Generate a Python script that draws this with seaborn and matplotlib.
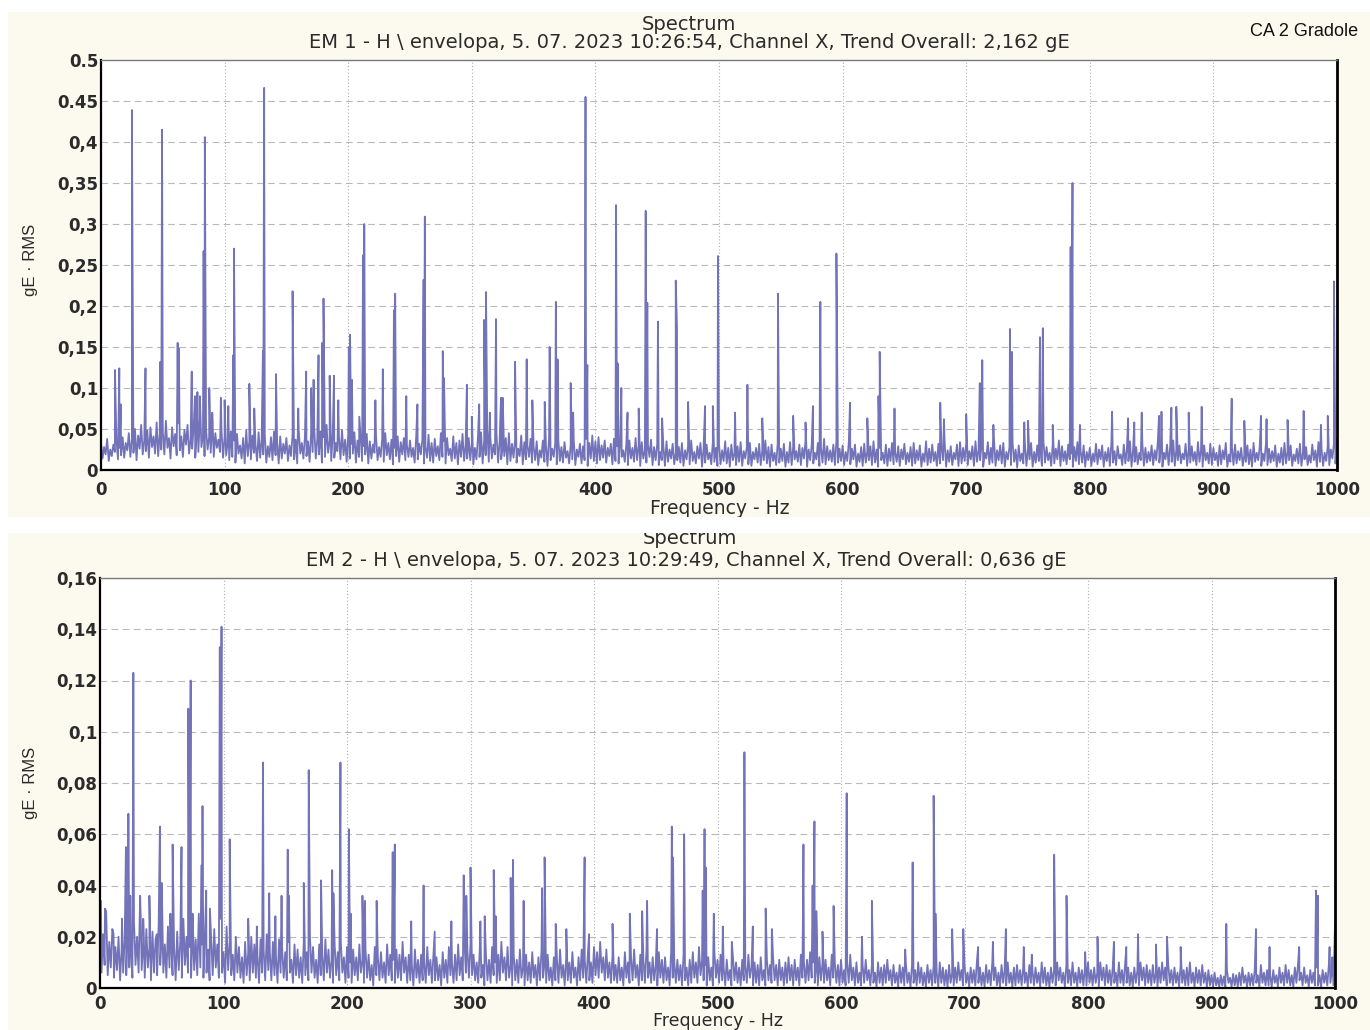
import numpy as np
import pandas as pd
import matplotlib
matplotlib.use("Agg")
import matplotlib.pyplot as plt
from matplotlib.patches import Rectangle
import seaborn as sns

# ---------------- data ----------------
FREQ_STEP = 2.5       # Hz spacing of the noise-floor samples
FREQ_OFFSET_LO = 1.25  # the "low" samples sit between the "high" samples

# top spectrum noise floor, upper samples (gE, thousandths) at 0, 2.5, ... 1000 Hz
noise1_hi_milli = [
    34, 28, 38, 25, 31, 36, 27, 40, 33, 45, 38, 50, 42, 55, 36, 48, 52, 41, 58, 44,
    47, 60, 39, 52, 44, 57, 41, 49, 55, 38, 53, 46, 62, 43, 50, 40, 56, 45, 37, 48,
    41, 33, 47, 36, 44, 30, 39, 49, 35, 42, 31, 46, 38, 43, 29, 40, 47, 34, 41, 32,
    39, 30, 44, 37, 48, 33, 41, 35, 45, 52, 38, 47, 40, 55, 36, 44, 33, 42, 49, 37,
    43, 32, 46, 36, 40, 29, 44, 35, 31, 42, 28, 38, 45, 33, 37, 27, 41, 34, 39, 30,
    36, 27, 40, 32, 37, 28, 43, 33, 38, 29, 45, 35, 39, 26, 41, 33, 36, 44, 30, 39,
    33, 27, 41, 46, 36, 50, 40, 31, 44, 35, 28, 39, 45, 32, 37, 26, 42, 34, 30, 38,
    29, 35, 24, 36, 30, 39, 26, 33, 37, 28, 34, 23, 31, 36, 25, 32, 29, 38, 33, 42,
    35, 40, 30, 36, 27, 32, 38, 29, 34, 24, 31, 36, 27, 39, 30, 34, 23, 31, 37, 28,
    31, 22, 29, 35, 25, 32, 21, 28, 33, 24, 30, 36, 22, 29, 33, 26, 31, 21, 34, 27,
    32, 24, 35, 27, 31, 20, 29, 34, 23, 28, 33, 22, 27, 32, 24, 36, 28, 31, 21, 33,
    26, 32, 22, 34, 28, 23, 31, 27, 36, 25, 30, 21, 33, 27, 38, 29, 24, 31, 35, 26,
    30, 22, 33, 26, 31, 20, 28, 32, 23, 29, 35, 25, 27, 21, 31, 26, 33, 22, 29, 25,
    32, 21, 28, 33, 24, 30, 20, 35, 26, 31, 22, 32, 27, 36, 24, 29, 21, 31, 34, 27,
    33, 23, 29, 35, 25, 31, 21, 34, 27, 37, 24, 30, 33, 22, 28, 34, 25, 30, 20, 32,
    26, 33, 22, 30, 25, 35, 28, 21, 32, 26, 36, 29, 23, 31, 20, 28, 34, 24, 30, 22,
    27, 20, 32, 25, 30, 22, 27, 34, 23, 29, 19, 31, 26, 35, 24, 28, 21, 33, 27, 22,
    30, 24, 34, 26, 21, 31, 28, 36, 25, 30, 20, 32, 26, 29, 22, 34, 25, 30, 21, 32,
    27, 21, 30, 24, 33, 19, 28, 31, 23, 27, 18, 30, 25, 33, 21, 29, 20, 32, 26, 23,
    30, 20, 27, 33, 23, 30, 19, 26, 32, 22, 28, 18, 31, 24, 34, 26, 21, 29, 25, 32,
    38,
]
# top spectrum noise floor, lower samples at 1.25, 3.75, ... 998.75 Hz
noise1_lo_milli = [
    14, 19, 11, 17, 22, 13, 18, 15, 24, 16, 21, 12, 26, 19, 23, 15, 28, 20, 17, 25,
    19, 27, 14, 29, 18, 24, 16, 31, 20, 26, 15, 22, 28, 17, 25, 21, 16, 27, 22, 15,
    18, 12, 16, 9, 20, 14, 8, 17, 13, 21, 11, 15, 19, 9, 16, 12, 18, 8, 14, 20,
    11, 17, 13, 8, 20, 14, 17, 10, 22, 14, 19, 9, 16, 21, 11, 15, 23, 13, 18, 10,
    14, 20, 9, 16, 11, 19, 8, 14, 21, 12, 16, 10, 18, 13, 7, 17, 10, 19, 12, 16,
    16, 9, 13, 19, 8, 15, 11, 9, 17, 12, 16, 8, 18, 11, 14, 7, 16, 11, 14, 12,
    7, 13, 16, 8, 18, 10, 14, 19, 9, 13, 17, 7, 11, 15, 9, 17, 7, 13, 16, 9,
    12, 6, 15, 10, 5, 12, 16, 7, 11, 9, 15, 8, 13, 6, 16, 8, 12, 5, 14, 11,
    8, 12, 15, 9, 17, 7, 11, 8, 16, 10, 6, 14, 10, 12, 5, 14, 9, 16, 6, 12,
    6, 12, 5, 10, 14, 7, 12, 9, 5, 13, 7, 11, 8, 14, 4, 9, 13, 7, 10, 5,
    7, 11, 8, 4, 12, 6, 10, 5, 14, 7, 5, 13, 9, 6, 12, 8, 4, 11, 6, 9,
    11, 4, 9, 6, 13, 10, 6, 14, 4, 12, 8, 13, 5, 9, 7, 12, 10, 6, 9, 11,
    6, 11, 7, 13, 4, 10, 5, 9, 12, 6, 9, 4, 12, 8, 5, 11, 7, 10, 5, 13,
    7, 10, 5, 8, 12, 4, 10, 6, 9, 11, 5, 8, 12, 4, 10, 6, 13, 5, 8, 11,
    6, 13, 5, 10, 12, 4, 14, 7, 9, 5, 12, 8, 4, 13, 6, 10, 3, 11, 8, 5,
    13, 4, 9, 11, 5, 9, 12, 5, 8, 13, 5, 11, 7, 13, 4, 11, 7, 9, 4, 12,
    5, 10, 7, 13, 4, 11, 5, 9, 6, 14, 6, 8, 11, 4, 10, 7, 12, 5, 9, 11,
    6, 12, 9, 4, 13, 6, 10, 5, 12, 8, 13, 5, 9, 11, 6, 10, 4, 12, 8, 6,
    12, 5, 7, 13, 4, 10, 6, 8, 12, 5, 10, 7, 4, 10, 12, 5, 11, 6, 9, 11,
    4, 9, 6, 8, 12, 5, 11, 8, 5, 13, 6, 9, 12, 4, 10, 5, 11, 6, 14, 8,
]

# top spectrum discrete peaks
peaks1_freq = [
    11.3, 14.8, 16, 25, 36, 48, 49.4, 62, 63, 73.4, 76, 78, 80, 83, 84, 87.6, 90, 97,
    100, 103, 107, 107.6, 120, 124, 131, 132, 141.6, 155, 159.6, 166, 170, 172, 176,
    179, 180, 185, 188.5, 192, 200.5, 201.5, 203, 209, 212, 213, 222, 228, 237, 238,
    247, 256, 261, 262, 276.5, 277.5, 296, 300, 306, 310, 311.5, 314.6, 319.6, 323.6,
    325, 335, 344.4, 349, 359, 363, 368, 369.4, 380, 382, 392, 393.5, 416.7, 418, 421,
    426, 435, 440.7, 442, 450.6, 454, 465, 466, 475, 488.7, 495, 499.2, 513, 523, 535,
    547.7, 560, 570, 576, 582, 595, 606, 620, 629, 630, 642, 679, 682, 700, 711, 713,
    722, 735.4, 737, 747, 750, 759.7, 762, 770, 784.5, 786, 792, 818, 831, 836, 842,
    856, 858, 866, 870, 880, 890.5, 914.8, 925, 938.5, 943, 960, 973, 987, 992.5, 997.5,
]
peaks1_amp = [
    0.122, 0.124, 0.080, 0.439, 0.124, 0.132, 0.415, 0.155, 0.148, 0.120, 0.090, 0.095,
    0.090, 0.267, 0.406, 0.100, 0.070, 0.088, 0.085, 0.078, 0.140, 0.270, 0.105, 0.075,
    0.145, 0.466, 0.117, 0.218, 0.075, 0.120, 0.100, 0.110, 0.140, 0.155, 0.209, 0.115,
    0.115, 0.085, 0.150, 0.165, 0.110, 0.065, 0.262, 0.300, 0.085, 0.123, 0.195, 0.215,
    0.090, 0.080, 0.232, 0.309, 0.145, 0.112, 0.104, 0.065, 0.080, 0.183, 0.217, 0.070,
    0.184, 0.088, 0.088, 0.132, 0.135, 0.085, 0.083, 0.150, 0.205, 0.135, 0.106, 0.070,
    0.455, 0.128, 0.323, 0.130, 0.100, 0.070, 0.075, 0.316, 0.204, 0.181, 0.063, 0.231,
    0.175, 0.083, 0.078, 0.078, 0.261, 0.070, 0.104, 0.063, 0.215, 0.066, 0.058, 0.078,
    0.205, 0.264, 0.082, 0.063, 0.090, 0.144, 0.075, 0.082, 0.062, 0.068, 0.106, 0.134,
    0.055, 0.172, 0.144, 0.058, 0.060, 0.162, 0.173, 0.055, 0.272, 0.350, 0.055, 0.071,
    0.063, 0.058, 0.070, 0.066, 0.071, 0.076, 0.077, 0.070, 0.077, 0.087, 0.060, 0.066,
    0.062, 0.061, 0.072, 0.055, 0.066, 0.230,
]

# bottom spectrum noise floor, upper samples (gE, ten-thousandths) at 0, 2.5, ... 1000 Hz
noise2_hi_tenth_milli = [
    340, 210, 300, 180, 230, 160, 200, 150, 190, 240, 170, 260, 200, 360, 180, 230, 160, 220, 190, 250,
    210, 170, 240, 190, 160, 220, 180, 270, 200, 160, 220, 190, 290, 170, 210, 150, 190, 230, 170, 270,
    140, 240, 180, 130, 200, 160, 120, 180, 140, 200, 170, 130, 190, 150, 210, 140, 180, 120, 190, 150,
    140, 180, 110, 170, 150, 120, 180, 140, 200, 160, 110, 170, 130, 190, 150, 110, 170, 140, 180, 120,
    160, 100, 150, 120, 170, 110, 150, 130, 90, 160, 120, 140, 100, 170, 130, 110, 150, 130, 180, 120,
    130, 90, 150, 110, 130, 100, 160, 110, 130, 120, 90, 140, 110, 160, 100, 130, 170, 120, 190, 150,
    170, 130, 100, 150, 90, 130, 110, 160, 100, 130, 180, 120, 160, 90, 130, 110, 150, 80, 130, 100,
    140, 90, 120, 150, 100, 130, 80, 120, 110, 150, 90, 120, 100, 140, 80, 120, 150, 110, 130, 100,
    160, 140, 180, 120, 150, 100, 130, 90, 120, 80, 140, 100, 120, 150, 90, 130, 110, 150, 100, 120,
    90, 140, 110, 120, 80, 150, 100, 110, 90, 130, 80, 110, 140, 100, 160, 110, 90, 120, 80, 140,
    110, 130, 80, 110, 70, 120, 100, 80, 110, 90, 130, 80, 100, 90, 120, 70, 110, 90, 120, 90,
    110, 80, 100, 120, 90, 110, 80, 130, 100, 110, 140, 100, 90, 120, 100, 110, 80, 130, 100, 90,
    110, 70, 100, 130, 80, 100, 60, 90, 110, 70, 90, 60, 100, 80, 90, 110, 70, 90, 60, 90,
    80, 100, 60, 90, 70, 100, 80, 60, 90, 70, 90, 60, 100, 80, 70, 90, 60, 80, 100, 70,
    90, 60, 80, 70, 100, 80, 60, 90, 70, 100, 80, 60, 90, 70, 100, 60, 80, 90, 70, 80,
    60, 90, 70, 80, 60, 100, 80, 60, 80, 70, 100, 80, 60, 90, 70, 100, 60, 80, 70, 80,
    100, 70, 80, 60, 100, 80, 90, 70, 80, 60, 100, 70, 90, 80, 60, 80, 70, 100, 80, 90,
    70, 90, 60, 80, 100, 80, 90, 70, 80, 60, 90, 70, 80, 100, 60, 80, 70, 90, 60, 70,
    50, 60, 40, 50, 45, 70, 40, 55, 50, 60, 80, 50, 60, 55, 70, 50, 90, 60, 70, 50,
    70, 50, 80, 60, 90, 70, 50, 80, 90, 60, 80, 50, 70, 60, 80, 50, 70, 60, 90, 70,
    250,
]
# bottom spectrum noise floor, lower samples at 1.25, 3.75, ... 998.75 Hz
noise2_lo_tenth_milli = [
    60, 90, 50, 80, 40, 70, 30, 60, 50, 80, 40, 90, 60, 70, 40, 80, 30, 60, 50, 90,
    60, 40, 80, 50, 30, 70, 40, 90, 60, 40, 70, 50, 80, 40, 60, 30, 50, 80, 40, 60,
    20, 70, 50, 30, 60, 40, 20, 50, 30, 60, 40, 20, 60, 30, 70, 30, 50, 20, 60, 40,
    30, 60, 20, 50, 40, 20, 50, 30, 60, 40, 20, 50, 30, 60, 40, 20, 50, 30, 60, 20,
    40, 20, 50, 30, 60, 20, 40, 30, 10, 50, 30, 40, 20, 50, 30, 20, 40, 30, 60, 20,
    30, 10, 40, 20, 30, 20, 50, 20, 30, 30, 10, 40, 20, 50, 20, 30, 50, 30, 60, 40,
    50, 30, 20, 40, 10, 30, 20, 50, 20, 30, 60, 30, 40, 10, 30, 20, 40, 10, 30, 20,
    40, 10, 30, 40, 20, 30, 10, 30, 20, 40, 10, 30, 20, 40, 10, 30, 40, 20, 30, 20,
    50, 40, 60, 30, 40, 20, 30, 20, 30, 10, 40, 20, 30, 40, 10, 30, 20, 40, 20, 30,
    10, 40, 20, 30, 10, 40, 20, 30, 10, 30, 10, 20, 40, 20, 50, 30, 10, 30, 10, 40,
    20, 30, 10, 30, 10, 30, 20, 10, 30, 20, 40, 10, 20, 10, 30, 10, 30, 20, 30, 10,
    30, 10, 20, 30, 10, 30, 10, 40, 20, 30, 40, 20, 10, 30, 20, 30, 10, 40, 20, 10,
    20, 10, 20, 30, 10, 20, 10, 20, 30, 10, 20, 5, 20, 10, 20, 30, 10, 20, 5, 20,
    10, 20, 5, 20, 10, 20, 10, 5, 20, 10, 20, 5, 20, 10, 5, 20, 10, 20, 30, 10,
    20, 5, 20, 10, 20, 10, 5, 20, 10, 30, 10, 5, 20, 10, 20, 5, 10, 20, 10, 20,
    5, 20, 10, 20, 5, 20, 10, 5, 20, 10, 30, 20, 5, 20, 10, 20, 5, 20, 10, 10,
    20, 10, 20, 5, 30, 10, 20, 10, 20, 5, 20, 10, 20, 10, 5, 20, 10, 30, 10, 20,
    10, 20, 5, 20, 30, 10, 20, 10, 20, 5, 20, 10, 10, 20, 5, 20, 10, 20, 5, 10,
    5, 10, 5, 10, 5, 20, 5, 10, 5, 10, 20, 5, 10, 10, 20, 5, 20, 10, 10, 5,
    20, 5, 20, 10, 20, 10, 5, 20, 30, 10, 20, 5, 20, 10, 10, 5, 20, 10, 20, 10,
]

peaks2_freq = [
    0.8, 4, 11, 17.8, 21, 23, 24.5, 27, 33, 35, 40, 46, 48.5, 50, 57, 58.8, 66, 71.5,
    73.4, 75, 82.3, 83, 86, 89, 97, 98.4, 105, 120, 127, 132, 137, 142, 147, 152, 153,
    165, 169, 179, 188, 189, 194.7, 201.5, 203, 212.5, 214.5, 224, 237, 238.7, 252, 262,
    271, 284.5, 294.5, 296.6, 300, 308, 311.5, 318.8, 320.5, 332.5, 334.4, 343, 358, 360,
    369, 377.6, 392.4, 396, 415, 429, 439, 443, 451, 463, 464, 473, 488, 489.5, 490.5,
    497, 504.3, 511.6, 521.8, 528.6, 539, 544, 569.6, 577, 578.5, 580, 585, 594, 604.6,
    617, 625, 652, 658, 675, 676.5, 690, 699, 711, 723, 733.5, 748, 754.5, 772.6, 782.6,
    797.7, 807.7, 821, 831, 840.5, 855, 864, 875, 912, 936, 947, 971, 984.6, 986.2,
    995.6, 997.8,
]
peaks2_amp = [
    0.034, 0.031, 0.021, 0.027, 0.055, 0.068, 0.036, 0.123, 0.027, 0.027, 0.036, 0.021,
    0.063, 0.041, 0.029, 0.056, 0.055, 0.109, 0.120, 0.029, 0.048, 0.071, 0.038, 0.031,
    0.133, 0.141, 0.058, 0.027, 0.024, 0.088, 0.037, 0.028, 0.036, 0.054, 0.036, 0.041,
    0.085, 0.042, 0.046, 0.037, 0.088, 0.062, 0.029, 0.036, 0.034, 0.034, 0.053, 0.056,
    0.026, 0.040, 0.022, 0.026, 0.044, 0.036, 0.047, 0.026, 0.028, 0.046, 0.028, 0.043,
    0.050, 0.034, 0.039, 0.051, 0.025, 0.023, 0.051, 0.021, 0.025, 0.029, 0.030, 0.034,
    0.023, 0.063, 0.051, 0.060, 0.038, 0.062, 0.047, 0.029, 0.024, 0.018, 0.092, 0.024,
    0.031, 0.023, 0.056, 0.040, 0.065, 0.030, 0.022, 0.032, 0.076, 0.020, 0.034, 0.015,
    0.049, 0.075, 0.029, 0.023, 0.023, 0.016, 0.018, 0.023, 0.016, 0.013, 0.052, 0.036,
    0.014, 0.020, 0.018, 0.016, 0.021, 0.017, 0.020, 0.016, 0.025, 0.023, 0.016, 0.016,
    0.038, 0.036, 0.016, 0.012,
]

x_ticks = [0, 100, 200, 300, 400, 500, 600, 700, 800, 900, 1000]
y1_ticks = [0, 0.05, 0.1, 0.15, 0.2, 0.25, 0.3, 0.35, 0.4, 0.45, 0.5]
y1_labels = ["0", "0,05", "0,1", "0,15", "0,2", "0,25", "0,3", "0,35", "0,4", "0.45", "0.5"]
y2_ticks = [0, 0.02, 0.04, 0.06, 0.08, 0.1, 0.12, 0.14, 0.16]
y2_labels = ["0", "0,02", "0,04", "0,06", "0,08", "0,1", "0,12", "0,14", "0,16"]

title1 = "EM 1 - H \\ envelopa, 5. 07. 2023 10:26:54, Channel X, Trend Overall: 2,162 gE"
title2 = "EM 2 - H \\ envelopa, 5. 07. 2023 10:29:49, Channel X, Trend Overall: 0,636 gE"


def build_spectrum(noise_hi, noise_lo, scale, pf, pa):
    f_hi = np.arange(len(noise_hi)) * FREQ_STEP
    f_lo = FREQ_OFFSET_LO + np.arange(len(noise_lo)) * FREQ_STEP
    a = np.concatenate([np.asarray(noise_hi, float), np.asarray(noise_lo, float)]) / scale
    df = pd.DataFrame({"f": np.concatenate([f_hi, f_lo, pf]),
                       "a": np.concatenate([a, pa])})
    return df.sort_values("f", kind="mergesort").reset_index(drop=True)


spec1 = build_spectrum(noise1_hi_milli, noise1_lo_milli, 1000.0, peaks1_freq, peaks1_amp)
spec2 = build_spectrum(noise2_hi_tenth_milli, noise2_lo_tenth_milli, 10000.0,
                       peaks2_freq, peaks2_amp)

# ---------------- style ----------------
sns.set_theme(style="white")
plt.rcParams["font.family"] = ["DejaVu Sans"]

W, H = 1370, 1030
fig = plt.figure(figsize=(W / 100, H / 100), dpi=100, facecolor="white")

CREAM = "#FCF9EF"
LINE = "#7373B9"
TXT = "#2b2b2b"


def fx(px):
    return px / W


def fy(py):
    return 1 - py / H


# cream panels (two stacked screenshots)
fig.patches.append(Rectangle((fx(8), fy(517)), fx(1370 - 8), (517 - 12) / H,
                             transform=fig.transFigure, facecolor=CREAM,
                             edgecolor="none", zorder=-2))
fig.patches.append(Rectangle((fx(8), 0), fx(1370 - 8), (1030 - 533) / H,
                             transform=fig.transFigure, facecolor=CREAM,
                             edgecolor="none", zorder=-2))

ax1 = fig.add_axes([fx(101), fy(470), fx(1337 - 101), (470 - 60) / H])
ax2 = fig.add_axes([fx(100), fy(988), fx(1335 - 100), (988 - 578) / H])


def style_axes(ax, yt, yl, ymax, xpad):
    ax.set_facecolor("white")
    ax.set_xlim(0, 1000)
    ax.set_ylim(0, ymax)
    ax.set_xticks(x_ticks)
    ax.set_xticklabels([str(t) for t in x_ticks])
    ax.set_yticks(yt)
    ax.set_yticklabels(yl)
    ax.grid(False)
    for t in yt[1:-1]:
        ax.axhline(t, color="#b8b8b8", lw=0.8, ls=(0, (6, 4)), zorder=0.5)
    for t in x_ticks[1:-1]:
        ax.axvline(t, color="#b0b0b0", lw=0.8, ls=(0, (1, 2)), zorder=0.5)
    ax.tick_params(axis="both", length=0, labelsize=12, labelcolor=TXT)
    ax.tick_params(axis="y", pad=2)
    ax.tick_params(axis="x", pad=xpad)
    for lab in ax.get_xticklabels() + ax.get_yticklabels():
        lab.set_fontweight("bold")
    ax.spines["left"].set_color("black")
    ax.spines["left"].set_linewidth(1.6)
    ax.spines["bottom"].set_color("black")
    ax.spines["bottom"].set_linewidth(1.6)
    ax.spines["right"].set_color("black")
    ax.spines["right"].set_linewidth(2.0)
    ax.spines["top"].set_color("#7a7a7a")
    ax.spines["top"].set_linewidth(1.0)
    ax.set_xlabel("")
    ax.set_ylabel("")


sns.lineplot(data=spec1, x="f", y="a", ax=ax1, color=LINE, linewidth=1.3,
             estimator=None, sort=False, zorder=2)
sns.lineplot(data=spec2, x="f", y="a", ax=ax2, color=LINE, linewidth=1.3,
             estimator=None, sort=False, zorder=2)
style_axes(ax1, y1_ticks, y1_labels, 0.5, 8)
style_axes(ax2, y2_ticks, y2_labels, 0.16, 5)

# texts
title_kw = dict(ha="center", va="center", fontsize=14, color=TXT)
fig.text(fx(689), fy(24), "Spectrum", **title_kw)
fig.text(fx(689), fy(43), title1, **title_kw)
fig.text(fx(720), fy(509), "Frequency - Hz", ha="center", va="center",
         fontsize=13.5, color=TXT)
fig.text(fx(690), fy(539), "Spectrum", zorder=3, **title_kw)
fig.text(fx(686), fy(560), title2, **title_kw)
fig.text(fx(718), fy(1021), "Frequency - Hz", ha="center", va="center",
         fontsize=12.5, color=TXT)

narrow = ["Liberation Sans Narrow", "Liberation Sans", "DejaVu Sans"]
fig.text(fx(1304), fy(32), "CA 2 Gradole", ha="center", va="center",
         fontsize=13, color="#111111", family=narrow)
fig.text(fx(30), fy(260), "gE · RMS", ha="center", va="center", rotation=90,
         fontsize=12, color=TXT, family=narrow)
fig.text(fx(30), fy(783), "gE · RMS", ha="center", va="center", rotation=90,
         fontsize=12, color=TXT, family=narrow)

# white seam between the two screenshots (hides the top of the 2nd "Spectrum")
fig.patches.append(Rectangle((0, fy(533)), 1, (533 - 517) / H,
                             transform=fig.transFigure, facecolor="white",
                             edgecolor="none", zorder=5))

fig.savefig("out.png", dpi=100, facecolor="white")
